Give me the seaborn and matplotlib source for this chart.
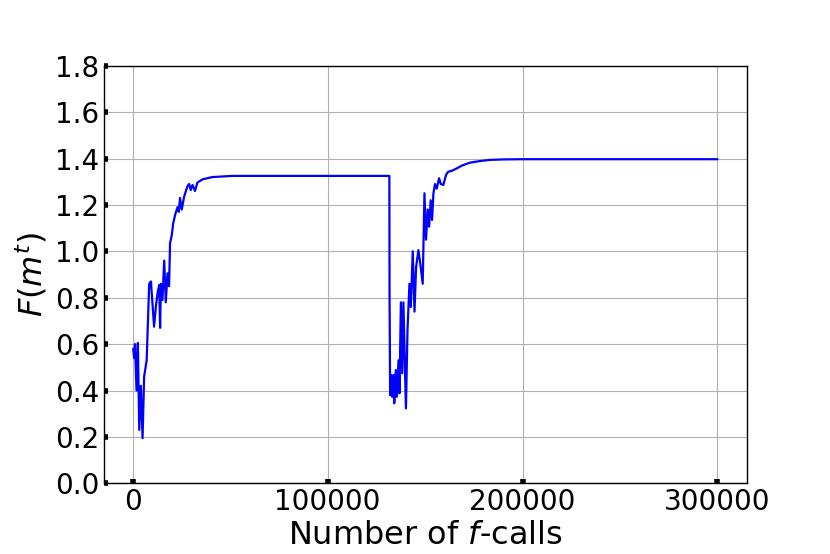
import numpy as np
import pandas as pd
import matplotlib
matplotlib.use("Agg")
import matplotlib.pyplot as plt
import seaborn as sns

# Values (x = number of f-calls, y = F(m^t))
calls_run1 = [300, 800, 1200, 2000, 2700, 3400, 4200, 5100, 5900, 7200,
              8500, 9400, 11000, 11900, 12800, 13600, 14100, 14500, 15300, 16200,
              17000, 17900, 18700, 19200, 20100, 20800, 21800, 23000, 23700, 24300,
              25200, 26400, 28100, 29000, 29800, 30700, 32000, 33200, 35800, 40900,
              51200, 80000, 131700]
fval_run1 = [0.58, 0.54, 0.60, 0.40, 0.605, 0.23, 0.42, 0.195, 0.46, 0.53,
             0.86, 0.87, 0.675, 0.76, 0.82, 0.855, 0.67, 0.86, 0.79, 0.96,
             0.78, 0.905, 0.85, 1.035, 1.07, 1.12, 1.157, 1.19, 1.17, 1.23,
             1.18, 1.235, 1.28, 1.29, 1.264, 1.286, 1.26, 1.296, 1.31, 1.32,
             1.325, 1.325, 1.325]

calls_run2 = [131800, 132100, 132600, 133100, 133800, 134200, 135000, 135500, 136400, 136900,
              137600, 138300, 138900, 140200, 141000, 142000, 142700, 143700, 144600, 145400,
              146600, 147500, 148800, 149700, 150500, 151400, 152100, 152900, 153600, 154300,
              155100, 156000, 157200, 158100, 159400, 160800, 161900, 163700, 166200, 168800,
              173000, 178100, 183200, 190000, 200000, 250000, 300000]
fval_run2 = [0.80, 0.38, 0.467, 0.373, 0.467, 0.345, 0.488, 0.373, 0.53, 0.388,
             0.78, 0.474, 0.78, 0.323, 0.66, 0.86, 0.76, 1.0, 0.74, 0.93,
             1.005, 0.95, 0.86, 1.25, 1.05, 1.18, 1.106, 1.22, 1.135, 1.25,
             1.29, 1.27, 1.315, 1.29, 1.286, 1.33, 1.343, 1.347, 1.357, 1.369,
             1.382, 1.389, 1.394, 1.396, 1.397, 1.397, 1.397]

df = pd.DataFrame({"calls": calls_run1 + calls_run2,
                   "F": fval_run1 + fval_run2})

sns.set_style("ticks", {"xtick.direction": "in", "ytick.direction": "in",
                        "text.color": "black", "axes.labelcolor": "black",
                        "xtick.color": "black", "ytick.color": "black"})
plt.rcParams["font.family"] = ["DejaVu Sans"]
plt.rcParams["font.size"] = 20

fig = plt.figure(figsize=(8.3, 5.54), dpi=100)
ax = fig.add_axes([0.1253, 0.1276, 0.7743, 0.7538])

sns.lineplot(data=df, x="calls", y="F", estimator=None, sort=False,
             color="blue", linewidth=1.6, ax=ax)

ax.set_ylim(0, 1.8)
ax.set_yticks(np.arange(0, 1.81, 0.2))
ax.set_xticks([0, 100000, 200000, 300000])
ax.ticklabel_format(axis="x", style="plain")
ax.tick_params(labelsize=20, length=3, width=4, direction="in",
               colors="black", labelcolor="black")
ax.grid(True, color="#b0b0b0", linewidth=0.8)
ax.set_axisbelow(True)
for s in ax.spines.values():
    s.set_color("black")
    s.set_linewidth(1.0)

ax.set_xlabel("Number of $f$-calls", fontsize=23, labelpad=3, color="black")
ax.set_ylabel("$F(m^t)$", fontsize=23, labelpad=4, color="black")

fig.savefig("out.png", dpi=100)
